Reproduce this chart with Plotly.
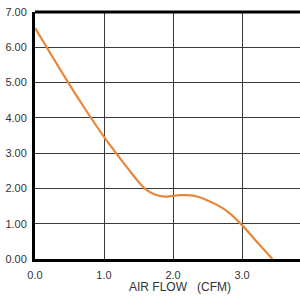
import plotly.graph_objects as go

air_flow = [0.0, 0.25, 0.5, 0.75, 1.0, 1.25, 1.4, 1.52, 1.62, 1.72, 1.82, 1.92, 2.0, 2.1, 2.2, 2.35, 2.5, 2.65, 2.8, 3.0, 3.2, 3.44]
pressure = [6.55, 5.74, 4.94, 4.18, 3.46, 2.81, 2.43, 2.14, 1.95, 1.84, 1.78, 1.77, 1.79, 1.81, 1.81, 1.77, 1.66, 1.52, 1.33, 0.96, 0.52, 0.0]

x_ticks = [0, 1, 2, 3]
x_tick_labels = ["0.0", "1.0", "2.0", "3.0"]
y_ticks = [0, 1, 2, 3, 4, 5, 6, 7]
y_tick_labels = ["0.00", "1.00", "2.00", "3.00", "4.00", "5.00", "6.00", "7.00"]

fig = go.Figure()
fig.add_trace(go.Scatter(
    x=air_flow, y=pressure, mode="lines",
    line=dict(color="#E8873A", width=2.2, shape="spline", smoothing=1.0),
    hoverinfo="skip",
))

font = dict(family="Liberation Sans, Arial, sans-serif", size=11, color="#333333")

fig.update_layout(
    width=300, height=300,
    margin=dict(l=35, r=0, t=12, b=41),
    paper_bgcolor="white", plot_bgcolor="white",
    showlegend=False,
    font=font,
    xaxis=dict(
        range=[0, 3.84], tickvals=x_ticks, ticktext=x_tick_labels,
        showgrid=True, gridcolor="#3a3a3a", gridwidth=1,
        showline=True, linecolor="black", linewidth=3,
        ticks="", zeroline=False, tickfont=font, ticklabelstandoff=4,
    ),
    yaxis=dict(
        range=[0, 7], tickvals=y_ticks, ticktext=y_tick_labels,
        showgrid=True, gridcolor="#3a3a3a", gridwidth=1,
        showline=True, linecolor="black", linewidth=3,
        ticks="", zeroline=False, tickfont=font, ticklabelstandoff=3,
    ),
    shapes=[dict(type="line", xref="paper", yref="paper", x0=0, x1=1, y0=1, y1=1,
                 line=dict(color="black", width=3))],
    annotations=[dict(
        x=2.1, xref="x", y=0, yref="paper", yanchor="middle", yshift=-28,
        text="AIR FLOW\u00a0\u00a0\u00a0(CFM)", showarrow=False,
        font=dict(family="Liberation Sans, Arial, sans-serif", size=12, color="#333333"),
    )],
)

fig.write_html("out.html")
